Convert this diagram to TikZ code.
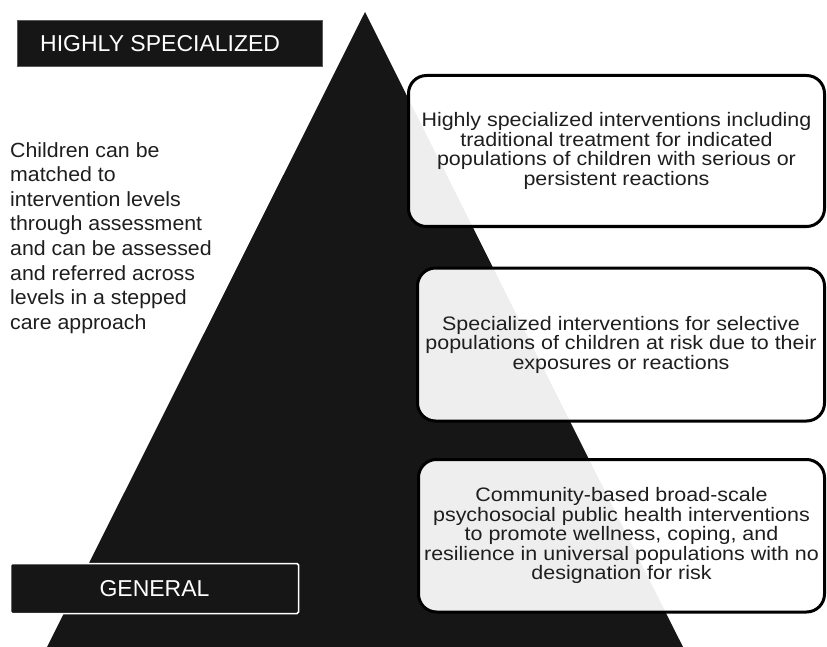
\documentclass[tikz,border=0pt]{standalone}
\usepackage{fontspec}
\setmainfont{Liberation Sans}
\newfontfamily\boxfont[FakeStretch=1.1]{Liberation Sans}
\newfontfamily\sidefont[FakeStretch=1.04]{Liberation Sans}
\definecolor{pyramid}{HTML}{161616}
\definecolor{ink}{HTML}{1E1E1E}
\begin{document}
\begin{tikzpicture}[x=1pt,y=-1pt,
  tier/.style={draw=black, line width=3pt, rounded corners=18pt,
    fill=white, fill opacity=0.93, text opacity=1, text=ink,
    align=center, inner sep=0pt,
    font=\boxfont\fontsize{19.5}{19.5}\selectfont},
  levelbox/.style={fill=pyramid, text=white, inner sep=0pt,
    font=\fontsize{23}{23}\selectfont}]
  \useasboundingbox (0,0) rectangle (827,647);

  % the pyramid
  \fill[pyramid] (365,12) -- (683,647) -- (47,647) -- cycle;

  % level labels
  \node[levelbox, draw=black!65, line width=1pt, minimum width=305pt,
        minimum height=46pt] (top) at (169.5,44) {};
  \node[text=white, anchor=west, inner sep=0pt,
        font=\fontsize{23}{23}\selectfont] (toptext) at (40,44) {HIGHLY SPECIALIZED};

  \node[levelbox, draw=white, line width=1.5pt, rounded corners=1.5pt,
        minimum width=288pt, minimum height=50pt] (general) at (154.5,588.5) {GENERAL};

  % explanatory note
  \node[anchor=north west, align=left, inner sep=0pt, text=ink,
        font=\sidefont\fontsize{20.5}{24.6}\selectfont] (note) at (10,142)
    {Children can be\\matched to\\intervention levels\\through assessment\\and can be assessed\\and referred across\\levels in a stepped\\care approach};

  % intervention tiers
  \node[tier, minimum width=416pt, minimum height=151pt] (tier1) at (616.5,151)
    {Highly specialized interventions including\\traditional treatment for indicated\\populations of children with serious or\\persistent reactions};
  \node[tier, minimum width=407pt, minimum height=153pt] (tier2) at (621,344.5)
    {Specialized interventions for selective\\populations of children at risk due to their\\exposures or reactions};
  \node[tier, minimum width=406pt, minimum height=152.5pt] (tier3) at (621.5,535.75)
    {Community-based broad-scale\\psychosocial public health interventions\\to promote wellness, coping, and\\resilience in universal populations with no\\designation for risk};
\end{tikzpicture}
\end{document}
